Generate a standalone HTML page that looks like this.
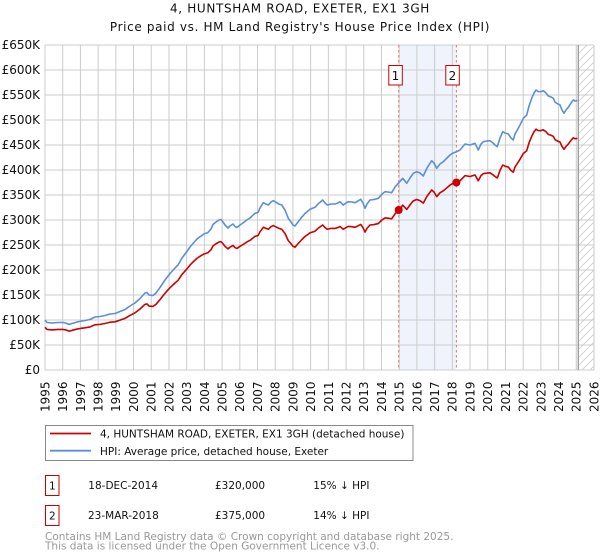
<!DOCTYPE html>
<html><head><meta charset="utf-8"><style>
html,body{margin:0;padding:0;background:#fff;}
svg{display:block;font-family:"DejaVu Sans","Liberation Sans",sans-serif;}
</style></head><body>
<svg width="600" height="560" viewBox="0 0 600 560" xmlns="http://www.w3.org/2000/svg">
<defs>
<pattern id="hatch" patternUnits="userSpaceOnUse" width="8" height="8">
<path d="M0,8 L8,0 M-2,2 L2,-2 M6,10 L10,6" stroke="#cccccc" stroke-width="0.8"/>
</pattern>
</defs>
<rect width="600" height="560" fill="#fff"/>
<text x="300" y="12.3" font-size="12" letter-spacing="0.65" text-anchor="middle" fill="#111">4, HUNTSHAM ROAD, EXETER, EX1 3GH</text>
<text x="300" y="30.8" font-size="12" letter-spacing="0.65" text-anchor="middle" fill="#111">Price paid vs. HM Land Registry's House Price Index (HPI)</text>

<!-- shaded region -->
<rect x="398.7" y="45" width="57.7" height="325" fill="#eef3fc"/>
<!-- hatched region -->
<rect x="578.3" y="45" width="15.7" height="325" fill="url(#hatch)"/>

<!-- grid -->
<g stroke="#cccccc" stroke-width="1">
<line x1="45" y1="45" x2="594" y2="45"/>
<line x1="45" y1="70" x2="594" y2="70"/>
<line x1="45" y1="95" x2="594" y2="95"/>
<line x1="45" y1="120" x2="594" y2="120"/>
<line x1="45" y1="145" x2="594" y2="145"/>
<line x1="45" y1="170" x2="594" y2="170"/>
<line x1="45" y1="195" x2="594" y2="195"/>
<line x1="45" y1="220" x2="594" y2="220"/>
<line x1="45" y1="245" x2="594" y2="245"/>
<line x1="45" y1="270" x2="594" y2="270"/>
<line x1="45" y1="295" x2="594" y2="295"/>
<line x1="45" y1="320" x2="594" y2="320"/>
<line x1="45" y1="345" x2="594" y2="345"/>
<line x1="45" y1="370" x2="594" y2="370"/>
<line x1="45" y1="45" x2="45" y2="370"/>
<line x1="62.71" y1="45" x2="62.71" y2="370"/>
<line x1="80.42" y1="45" x2="80.42" y2="370"/>
<line x1="98.13" y1="45" x2="98.13" y2="370"/>
<line x1="115.84" y1="45" x2="115.84" y2="370"/>
<line x1="133.55" y1="45" x2="133.55" y2="370"/>
<line x1="151.26" y1="45" x2="151.26" y2="370"/>
<line x1="168.97" y1="45" x2="168.97" y2="370"/>
<line x1="186.68" y1="45" x2="186.68" y2="370"/>
<line x1="204.39" y1="45" x2="204.39" y2="370"/>
<line x1="222.1" y1="45" x2="222.1" y2="370"/>
<line x1="239.81" y1="45" x2="239.81" y2="370"/>
<line x1="257.52" y1="45" x2="257.52" y2="370"/>
<line x1="275.23" y1="45" x2="275.23" y2="370"/>
<line x1="292.94" y1="45" x2="292.94" y2="370"/>
<line x1="310.65" y1="45" x2="310.65" y2="370"/>
<line x1="328.36" y1="45" x2="328.36" y2="370"/>
<line x1="346.07" y1="45" x2="346.07" y2="370"/>
<line x1="363.78" y1="45" x2="363.78" y2="370"/>
<line x1="381.49" y1="45" x2="381.49" y2="370"/>
<line x1="399.2" y1="45" x2="399.2" y2="370"/>
<line x1="416.91" y1="45" x2="416.91" y2="370"/>
<line x1="434.62" y1="45" x2="434.62" y2="370"/>
<line x1="452.33" y1="45" x2="452.33" y2="370"/>
<line x1="470.04" y1="45" x2="470.04" y2="370"/>
<line x1="487.75" y1="45" x2="487.75" y2="370"/>
<line x1="505.46" y1="45" x2="505.46" y2="370"/>
<line x1="523.17" y1="45" x2="523.17" y2="370"/>
<line x1="540.88" y1="45" x2="540.88" y2="370"/>
<line x1="558.59" y1="45" x2="558.59" y2="370"/>
<line x1="576.3" y1="45" x2="576.3" y2="370"/>
<line x1="594" y1="45" x2="594" y2="370"/>
</g>
<line x1="578.3" y1="45" x2="578.3" y2="370" stroke="#999999" stroke-width="1.3"/>

<!-- sale dashed lines -->
<line x1="398.7" y1="45" x2="398.7" y2="370" stroke="#f07070" stroke-width="1" stroke-dasharray="2.5,2.5"/>
<line x1="456.4" y1="45" x2="456.4" y2="370" stroke="#f07070" stroke-width="1" stroke-dasharray="2.5,2.5"/>

<!-- HPI blue -->
<polyline fill="none" stroke="#5b8fd6" stroke-width="1.6" stroke-linejoin="round" points="45,320 47,322.5 52,323 58,322.5 63,322.5 66,323 69,324.5 72,323.5 77,322 82,321 85,320.5 90,319.5 95,317 100,316.5 105,315.5 110,314 115,313.5 120,311.5 125,309.5 130,306 135,303 140,298.5 145,293 147,292.5 149,295 153,295.5 156,293 160,287.5 165,280 170,273.5 175,268 178,265 182,258 185,254 188,250 190,247 193,243.5 197,239 200,236.7 204,234 208,232.5 211,229 213,224.5 216,222 219,220 221,219.5 223,222 225,225 228,228 230,226 233,224 235,226.5 237,227.5 240,225 243,223 246.7,220 250,218 255,213.3 258,212.5 260,208 263.3,202.7 266,204 268.3,205 271,202 273.3,200.7 276.7,202.7 279,204 281.7,205 285,210 288.3,218.3 291,222 293,225 295,226 298,222 301.7,217.3 305,213.5 310,209.3 315,207.3 318,204 322.7,200 325,203 327.3,205 331,204 335,204 338,203 340,201.7 343.3,205 346,203 348.3,201.7 352,202 355,202.7 358,201 360.7,199.3 363,203 365,208.3 367,204 370,200 374,199.5 378.3,198.3 382,194 385,191.7 388,192 391.7,192.7 395,187 398.3,183.3 402.7,178.3 405,181 406.7,183.3 410,178 413.3,173.3 416.7,171.7 420,173 423.3,176 427,168 431.7,160.7 434,163 436.7,168.3 440,164 443.3,161.7 447,158 450,155 453,153 456.7,151.7 460,150 465,144 470,145 475,143.3 478.3,150 481,144 483.3,141.7 487,141 490,140.7 493,143 495,145 497.3,146.7 500,138 502.7,131.7 505,133 508.3,134 511,138 513.3,140 515,134 517.3,130 520,125 523.3,118.3 526.7,115 529,106 531.7,98.3 534,93 536,90 538,91.5 540.7,91.7 543.3,90.7 546,93 548.3,96 551,97 553.3,98.3 555,102 556.7,103.3 560,105 562,110 564,113.3 566,110 568.3,107.3 571,103 573.3,100 575,101 577.3,100.7"/>

<!-- Price paid red (segment A) -->
<polyline fill="none" stroke="#cc0000" stroke-width="1.6" stroke-linejoin="round" vector-effect="non-scaling-stroke" transform="matrix(1,0,0,0.853,0,54.39)" points="45,320 47,322.5 52,323 58,322.5 63,322.5 66,323 69,324.5 72,323.5 77,322 82,321 85,320.5 90,319.5 95,317 100,316.5 105,315.5 110,314 115,313.5 120,311.5 125,309.5 130,306 135,303 140,298.5 145,293 147,292.5 149,295 153,295.5 156,293 160,287.5 165,280 170,273.5 175,268 178,265 182,258 185,254 188,250 190,247 193,243.5 197,239 200,236.7 204,234 208,232.5 211,229 213,224.5 216,222 219,220 221,219.5 223,222 225,225 228,228 230,226 233,224 235,226.5 237,227.5 240,225 243,223 246.7,220 250,218 255,213.3 258,212.5 260,208 263.3,202.7 266,204 268.3,205 271,202 273.3,200.7 276.7,202.7 279,204 281.7,205 285,210 288.3,218.3 291,222 293,225 295,226 298,222 301.7,217.3 305,213.5 310,209.3 315,207.3 318,204 322.7,200 325,203 327.3,205 331,204 335,204 338,203 340,201.7 343.3,205 346,203 348.3,201.7 352,202 355,202.7 358,201 360.7,199.3 363,203 365,208.3 367,204 370,200 374,199.5 378.3,198.3 382,194 385,191.7 388,192 391.7,192.7 395,187 398.7,182.5"/>
<!-- Price paid red (segment B) -->
<polyline fill="none" stroke="#cc0000" stroke-width="1.6" stroke-linejoin="round" vector-effect="non-scaling-stroke" transform="matrix(1,0,0,0.86,0,51.8)" points="398.7,185 402.7,178.3 405,181 406.7,183.3 410,178 413.3,173.3 416.7,171.7 420,173 423.3,176 427,168 431.7,160.7 434,163 436.7,168.3 440,164 443.3,161.7 447,158 450,155 453,153 456.7,151.7 460,150 465,144 470,145 475,143.3 478.3,150 481,144 483.3,141.7 487,141 490,140.7 493,143 495,145 497.3,146.7 500,138 502.7,131.7 505,133 508.3,134 511,138 513.3,140 515,134 517.3,130 520,125 523.3,118.3 526.7,115 529,106 531.7,98.3 534,93 536,90 538,91.5 540.7,91.7 543.3,90.7 546,93 548.3,96 551,97 553.3,98.3 555,102 556.7,103.3 560,105 562,110 564,113.3 566,110 568.3,107.3 571,103 573.3,100 575,101 577.3,100.7"/>

<!-- sale markers -->
<circle cx="398.7" cy="210" r="4" fill="#cc0000"/>
<circle cx="456.4" cy="182.5" r="4" fill="#cc0000"/>

<!-- marker labels -->
<rect x="388.8" y="65.5" width="13.5" height="19.5" fill="#fff" stroke="#cc0000" stroke-width="1"/>
<text x="395.5" y="80" font-size="12" text-anchor="middle" fill="#111">1</text>
<rect x="445.8" y="65.5" width="13.5" height="19.5" fill="#fff" stroke="#cc0000" stroke-width="1"/>
<text x="452.5" y="80" font-size="12" text-anchor="middle" fill="#111">2</text>

<!-- y tick labels -->
<g font-size="12" text-anchor="end" fill="#111">
<text x="40" y="49">£650K</text>
<text x="40" y="74">£600K</text>
<text x="40" y="99">£550K</text>
<text x="40" y="124">£500K</text>
<text x="40" y="149">£450K</text>
<text x="40" y="174">£400K</text>
<text x="40" y="199">£350K</text>
<text x="40" y="224">£300K</text>
<text x="40" y="249">£250K</text>
<text x="40" y="274">£200K</text>
<text x="40" y="299">£150K</text>
<text x="40" y="324">£100K</text>
<text x="40" y="349">£50K</text>
<text x="40" y="374">£0</text>
</g>

<!-- x tick labels -->
<g font-size="12" text-anchor="end" fill="#111">
<text transform="translate(49.4,381.5) rotate(-90)">1995</text>
<text transform="translate(67.11,381.5) rotate(-90)">1996</text>
<text transform="translate(84.82,381.5) rotate(-90)">1997</text>
<text transform="translate(102.53,381.5) rotate(-90)">1998</text>
<text transform="translate(120.24,381.5) rotate(-90)">1999</text>
<text transform="translate(137.95,381.5) rotate(-90)">2000</text>
<text transform="translate(155.66,381.5) rotate(-90)">2001</text>
<text transform="translate(173.37,381.5) rotate(-90)">2002</text>
<text transform="translate(191.08,381.5) rotate(-90)">2003</text>
<text transform="translate(208.79,381.5) rotate(-90)">2004</text>
<text transform="translate(226.5,381.5) rotate(-90)">2005</text>
<text transform="translate(244.21,381.5) rotate(-90)">2006</text>
<text transform="translate(261.92,381.5) rotate(-90)">2007</text>
<text transform="translate(279.63,381.5) rotate(-90)">2008</text>
<text transform="translate(297.34,381.5) rotate(-90)">2009</text>
<text transform="translate(315.05,381.5) rotate(-90)">2010</text>
<text transform="translate(332.76,381.5) rotate(-90)">2011</text>
<text transform="translate(350.47,381.5) rotate(-90)">2012</text>
<text transform="translate(368.18,381.5) rotate(-90)">2013</text>
<text transform="translate(385.89,381.5) rotate(-90)">2014</text>
<text transform="translate(403.6,381.5) rotate(-90)">2015</text>
<text transform="translate(421.31,381.5) rotate(-90)">2016</text>
<text transform="translate(439.02,381.5) rotate(-90)">2017</text>
<text transform="translate(456.73,381.5) rotate(-90)">2018</text>
<text transform="translate(474.44,381.5) rotate(-90)">2019</text>
<text transform="translate(492.15,381.5) rotate(-90)">2020</text>
<text transform="translate(509.86,381.5) rotate(-90)">2021</text>
<text transform="translate(527.57,381.5) rotate(-90)">2022</text>
<text transform="translate(545.28,381.5) rotate(-90)">2023</text>
<text transform="translate(562.99,381.5) rotate(-90)">2024</text>
<text transform="translate(580.7,381.5) rotate(-90)">2025</text>
<text transform="translate(598.4,381.5) rotate(-90)">2026</text>
</g>

<!-- legend -->
<rect x="45.5" y="425.5" width="367.5" height="35" fill="#fff" stroke="#888888" stroke-width="1"/>
<line x1="50" y1="433.5" x2="91" y2="433.5" stroke="#cc0000" stroke-width="1.8"/>
<line x1="50" y1="450.7" x2="91" y2="450.7" stroke="#5b8fd6" stroke-width="1.8"/>
<text x="100" y="437.5" font-size="10.5" fill="#111">4, HUNTSHAM ROAD, EXETER, EX1 3GH (detached house)</text>
<text x="100" y="455" font-size="10.5" fill="#111">HPI: Average price, detached house, Exeter</text>

<!-- table -->
<rect x="45.5" y="475.5" width="13.5" height="20" fill="#fff" stroke="#cc0000" stroke-width="1"/>
<text x="52.3" y="489.5" font-size="10.5" text-anchor="middle" fill="#111">1</text>
<text x="88.3" y="489" font-size="10.5" fill="#111">18-DEC-2014</text>
<text x="215" y="489" font-size="10.5" fill="#111">£320,000</text>
<text x="313.3" y="489" font-size="10.5" fill="#111">15% ↓ HPI</text>

<rect x="45.5" y="505.5" width="13.5" height="20" fill="#fff" stroke="#cc0000" stroke-width="1"/>
<text x="52.3" y="519.5" font-size="10.5" text-anchor="middle" fill="#111">2</text>
<text x="88" y="519" font-size="10.5" fill="#111">23-MAR-2018</text>
<text x="215" y="519" font-size="10.5" fill="#111">£375,000</text>
<text x="313.3" y="519" font-size="10.5" fill="#111">14% ↓ HPI</text>

<!-- footer -->
<text x="45" y="540" font-size="10.5" fill="#999999">Contains HM Land Registry data © Crown copyright and database right 2025.</text>
<text x="45" y="549.5" font-size="10.5" fill="#999999">This data is licensed under the Open Government Licence v3.0.</text>
</svg>
</body></html>
